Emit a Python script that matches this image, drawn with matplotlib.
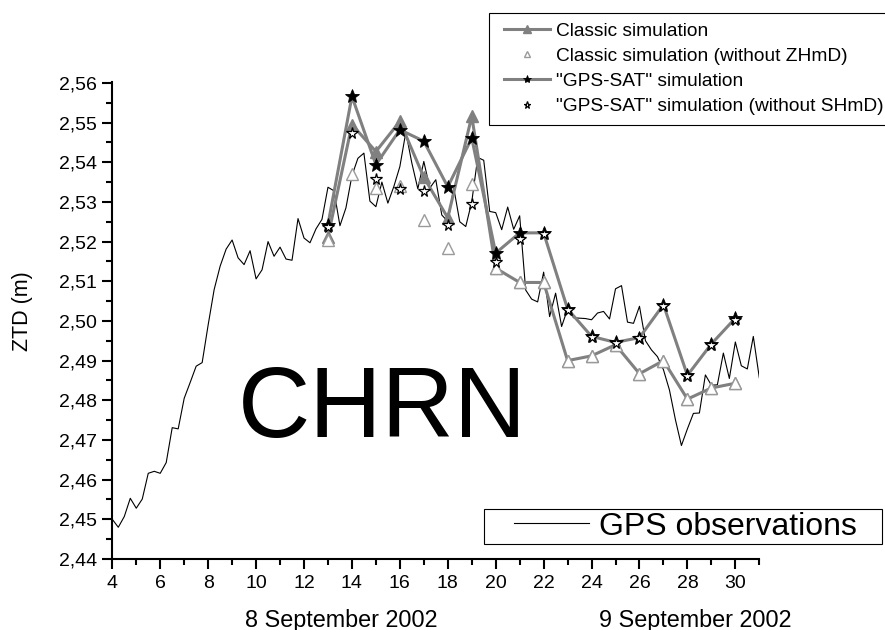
import numpy as np
import matplotlib

matplotlib.use("Agg")
import matplotlib.pyplot as plt
import matplotlib.ticker as mticker
from matplotlib.legend_handler import HandlerLine2D

plt.rcParams["font.family"] = ["Liberation Sans", "DejaVu Sans"]

# GPS observations, one value every 15 min starting at hour 4
gps_start = 4.0
gps_step = 0.25
gps_ztd = [
    2.4500, 2.4480, 2.4507, 2.4553, 2.4528, 2.4551, 2.4616, 2.4621,
    2.4616, 2.4643, 2.4731, 2.4728, 2.4805, 2.4845, 2.4886, 2.4895,
    2.4990, 2.5079, 2.5138, 2.5181, 2.5204, 2.5159, 2.5142, 2.5177,
    2.5106, 2.5129, 2.5200, 2.5163, 2.5186, 2.5156, 2.5153, 2.5258,
    2.5209, 2.5197, 2.5232, 2.5256, 2.5337, 2.5328, 2.5240, 2.5285,
    2.5366, 2.5410, 2.5423, 2.5302, 2.5288, 2.5350, 2.5297, 2.5339,
    2.5389, 2.5476, 2.5398, 2.5333, 2.5402, 2.5335, 2.5356, 2.5267,
    2.5251, 2.5335, 2.5250, 2.5238, 2.5300, 2.5412, 2.5405, 2.5276,
    2.5273, 2.5230, 2.5287, 2.5231, 2.5265, 2.5078, 2.5055, 2.5048,
    2.5123, 2.5011, 2.5070, 2.4986, 2.5030, 2.5008, 2.5007, 2.5006,
    2.5003, 2.5020, 2.5024, 2.5005, 2.5081, 2.5089, 2.4997, 2.4994,
    2.5037, 2.4950, 2.4927, 2.4910, 2.4877, 2.4826, 2.4751, 2.4686,
    2.4728, 2.4767, 2.4768, 2.4864, 2.4838, 2.4839, 2.4919, 2.4855,
    2.4947, 2.4887, 2.4879, 2.4961, 2.4857,
]

# simulations, hourly
sim_hours = [13, 14, 15, 16, 17, 18, 19, 20, 21, 22, 23, 24, 25, 26, 27, 28, 29, 30]
classic = [2.5212, 2.5495, 2.5427, 2.5503, 2.5362, 2.5260, 2.5516, 2.5133, 2.5097,
           2.5097, 2.4900, 2.4912, 2.4940, 2.4867, 2.4900, 2.4803, 2.4831, 2.4843]
classic_no_zhmd = [2.5204, 2.5370, 2.5335, 2.5341, 2.5255, 2.5185, 2.5344, 2.5133, 2.5097,
                   2.5097, 2.4900, 2.4912, 2.4940, 2.4867, 2.4900, 2.4803, 2.4831, 2.4843]
gps_sat = [2.5243, 2.5566, 2.5394, 2.5482, 2.5453, 2.5338, 2.5461, 2.5171, 2.5222,
           2.5222, 2.5030, 2.4961, 2.4946, 2.4958, 2.5041, 2.4863, 2.4942, 2.5007]
gps_sat_no_shmd = [2.5237, 2.5474, 2.5358, 2.5333, 2.5327, 2.5243, 2.5296, 2.5148, 2.5207,
                   2.5220, 2.5027, 2.4960, 2.4944, 2.4956, 2.5037, 2.4861, 2.4940, 2.5003]

gps_hours = gps_start + gps_step * np.arange(len(gps_ztd))

W, H = 885, 630
fig = plt.figure(figsize=(W / 100, H / 100), dpi=100)
ax = fig.add_axes([112.3 / W, 1 - 559 / H, 647 / W, 477.3 / H])

grey = "#808080"

gps_line, = ax.plot(gps_hours, gps_ztd, color="black", lw=0.8, zorder=2,
                    label="GPS observations")
l1, = ax.plot(sim_hours, classic, color=grey, lw=2.2, marker="^", ms=8.5,
              mfc=grey, mec=grey, zorder=3, label="Classic simulation")
l3, = ax.plot(sim_hours, gps_sat, color=grey, lw=2.2, marker="*", ms=10,
              mfc="black", mec="black", mew=0.6, zorder=4,
              label='"GPS-SAT" simulation')
l2, = ax.plot(sim_hours, classic_no_zhmd, ls="none", marker="^", ms=8,
              mfc="white", mec="#9a9a9a", mew=1.0, zorder=5,
              label="Classic simulation (without ZHmD)")
l4, = ax.plot(sim_hours, gps_sat_no_shmd, ls="none", marker="*", ms=8.5,
              mfc="white", mec="black", mew=0.9, zorder=6,
              label='"GPS-SAT" simulation (without SHmD)')

ax.set_xlim(4, 31)
ax.set_ylim(2.44, 2.5603)

for s in ["top", "right"]:
    ax.spines[s].set_visible(False)
for s in ["left", "bottom"]:
    ax.spines[s].set_linewidth(1.5)

ax.xaxis.set_major_locator(mticker.MultipleLocator(2))
ax.xaxis.set_minor_locator(mticker.MultipleLocator(1))
ax.yaxis.set_major_locator(mticker.MultipleLocator(0.01))
ax.yaxis.set_minor_locator(mticker.MultipleLocator(0.005))
ax.yaxis.set_major_formatter(
    mticker.FuncFormatter(lambda v, p: f"{v:.2f}".replace(".", ","))
)
ax.tick_params(which="major", direction="out", length=7.2, width=1.5,
               labelsize=14, pad=4)
ax.tick_params(which="minor", direction="out", length=4.3, width=1.5)

ax.set_ylabel("ZTD (m)", fontsize=15.5)
ax.yaxis.set_label_coords(-0.122, 0.52)

fig.text(341 / W, 1 - 620 / H, "8 September 2002", fontsize=16.8,
         ha="center", va="center")
fig.text(695 / W, 1 - 620 / H, "9 September 2002", fontsize=16.8,
         ha="center", va="center")

fig.text(382.5 / W, 1 - 437 / H, "CHRN", fontsize=72, ha="center",
         va="baseline")

leg1 = fig.legend(
    handles=[l1, l2, l3, l4],
    loc="upper left",
    bbox_to_anchor=(489 / W, 1 - 13 / H),
    borderaxespad=0,
    fontsize=13.8,
    frameon=True,
    fancybox=False,
    edgecolor="black",
    framealpha=1,
    handlelength=2.7,
    handletextpad=0.32,
    labelspacing=0.4,
    borderpad=0.5,
    markerscale=0.6,
    numpoints=1,
    handler_map={l1: HandlerLine2D(xpad=0.3), l2: HandlerLine2D(xpad=0.3),
                 l3: HandlerLine2D(xpad=0.3), l4: HandlerLine2D(xpad=0.3)},
)
leg1.get_frame().set_linewidth(0.8)

leg2 = fig.legend(
    handles=[gps_line],
    loc="upper left",
    bbox_to_anchor=(484 / W, 1 - 549 / H, 398 / W, 40 / H),
    mode="expand",
    borderaxespad=0,
    fontsize=23,
    frameon=True,
    fancybox=False,
    edgecolor="black",
    framealpha=1,
    handlelength=3.2,
    handletextpad=0.33,
    borderpad=0.08,
    handler_map={gps_line: HandlerLine2D(xpad=0.85)},
)
leg2.get_frame().set_linewidth(0.8)

fig.savefig("out.png", dpi=100)
